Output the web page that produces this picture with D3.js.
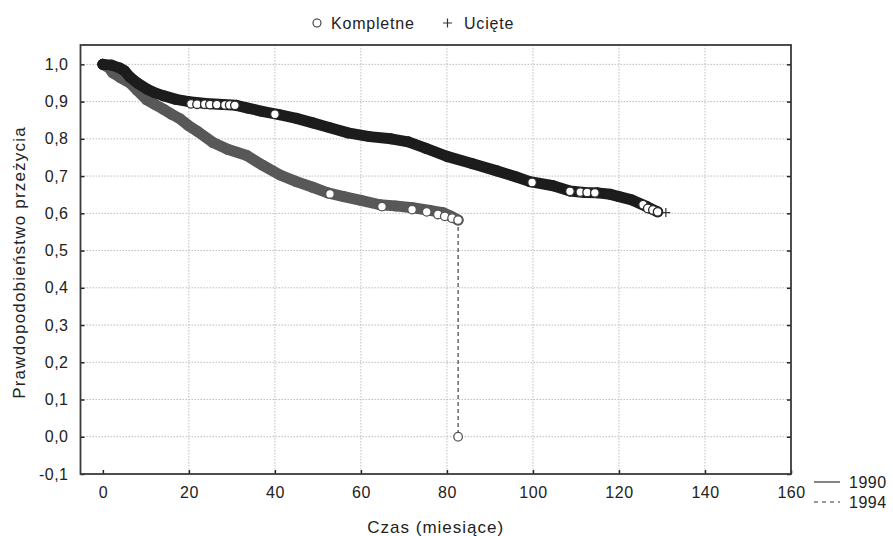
<!DOCTYPE html>
<html>
<head>
<meta charset="utf-8">
<script src="https://cdn.jsdelivr.net/npm/d3@7"></script>
<style>
  body { margin: 0; background: #fff; }
  text { font-family: "Liberation Sans", Arial, sans-serif; fill: #222; }
</style>
</head>
<body>
<div id="chart"></div>
<script>
// Kaplan-Meier survival curves: [months, probability]
const curve1990 = [
  [0, 1.0], [2, 0.998], [4, 0.99], [5, 0.983], [6.3, 0.966], [8, 0.95], [10.2, 0.934],
  [12, 0.924], [14, 0.916], [17, 0.906], [20, 0.9], [24, 0.895], [28, 0.892], [31, 0.89],
  [33.5, 0.883], [37, 0.874], [41, 0.865], [45, 0.855], [48.8, 0.843], [52.8, 0.83],
  [57, 0.816], [62, 0.806], [67, 0.8], [71, 0.792], [75, 0.775], [80, 0.753], [86, 0.733],
  [91.6, 0.714], [96, 0.698], [99.3, 0.685], [104.7, 0.674], [108.6, 0.66], [112, 0.656],
  [115, 0.655], [118, 0.651], [120, 0.645], [123, 0.636], [126.5, 0.618], [129, 0.604]
];
const curve1994 = [
  [0, 1.0], [1.5, 0.99], [2.3, 0.977], [4, 0.965], [6.3, 0.95], [8, 0.93], [10.2, 0.905],
  [12, 0.893], [14, 0.88], [16, 0.866], [17.9, 0.854], [20, 0.835], [22, 0.82], [25.6, 0.79],
  [29, 0.772], [33.5, 0.755], [37, 0.73], [41.2, 0.703], [45, 0.685], [48.8, 0.67],
  [52.3, 0.655], [56, 0.645], [60, 0.635], [64.4, 0.623], [68, 0.62], [72, 0.615],
  [76, 0.608], [79, 0.602], [81, 0.592], [82.6, 0.582]
];

// complete observations still visible as open circles
const open1990 = [
  [20.5, 0.894], [21.9, 0.893], [23.7, 0.893], [24.9, 0.892], [26.5, 0.892], [28.4, 0.891],
  [29.5, 0.891], [30.7, 0.89], [40, 0.866], [99.8, 0.683], [108.6, 0.659], [111, 0.657],
  [112.6, 0.656], [114.4, 0.655], [125.6, 0.623], [126.7, 0.613], [127.9, 0.609], [129, 0.604]
];
const open1994 = [
  [52.8, 0.652], [64.9, 0.618], [71.9, 0.61], [75.3, 0.604], [77.9, 0.597], [79.5, 0.592],
  [81.2, 0.587], [82.6, 0.582], [82.6, 0.0]
];
// censored observation
const censored1990 = [[130.9, 0.602]];

const xTicks = [0, 20, 40, 60, 80, 100, 120, 140, 160];
const yTicks = [-0.1, 0, 0.1, 0.2, 0.3, 0.4, 0.5, 0.6, 0.7, 0.8, 0.9, 1.0];
const years = ["1990", "1994"];

const width = 893, height = 536;
const plotL = 80.5, plotR = 791, plotT = 45, plotB = 474;

const svg = d3.select('#chart').append('svg')
  .attr('width', width)
  .attr('height', height);

const x = d3.scaleLinear().domain([-5.2, 160]).range([plotL, plotR]);
const y = d3.scaleLinear().domain([-0.1, 1.052]).range([plotB, plotT]);

const fmt = v => v.toFixed(1).replace('.', ',');

//Grid
svg.append('g').selectAll('line')
  .data(xTicks.filter(d => d > 0 && d < 160))
  .enter().append('line')
    .attr('x1', d => x(d)).attr('x2', d => x(d))
    .attr('y1', plotT).attr('y2', plotB)
    .attr('stroke', '#bdbdbd').attr('stroke-dasharray', '1.5,1.5');
svg.append('g').selectAll('line')
  .data(yTicks.filter(d => d > -0.1))
  .enter().append('line')
    .attr('x1', plotL).attr('x2', plotR)
    .attr('y1', d => y(d)).attr('y2', d => y(d))
    .attr('stroke', '#bdbdbd').attr('stroke-dasharray', '1.5,1.5');

//Axes with inward ticks
const xAxis = svg.append('g')
  .attr('transform', `translate(0,${plotB})`)
  .call(d3.axisBottom(x).tickValues(xTicks).tickSize(-4).tickPadding(13));
const yAxis = svg.append('g')
  .attr('transform', `translate(${plotL},0)`)
  .call(d3.axisLeft(y).tickValues(yTicks).tickFormat(fmt).tickSize(-4).tickPadding(12));
const yAxisR = svg.append('g')
  .attr('transform', `translate(${plotR},0)`)
  .call(d3.axisRight(y).tickValues(yTicks).tickFormat('').tickSize(-4));

[xAxis, yAxis, yAxisR].forEach(g => {
  g.select('.domain').remove();
  g.selectAll('.tick line').attr('stroke', '#222').attr('stroke-width', 1.5);
  g.selectAll('.tick text')
    .style('font-family', '"Liberation Sans", Arial, sans-serif')
    .style('font-size', '16px')
    .style('letter-spacing', '0.5px')
    .attr('fill', '#222');
});

//Frame
svg.append('rect')
  .attr('x', plotL).attr('y', plotT)
  .attr('width', plotR - plotL).attr('height', plotB - plotT)
  .attr('fill', 'none').attr('stroke', '#3a3a3a').attr('stroke-width', 1.8);

//Survival bands
const line = d3.line().x(d => x(d[0])).y(d => y(d[1]));

const series = [
  {curve: curve1994, open: open1994, color: '#585858', ring: '#555'},
  {curve: curve1990, open: open1990, color: '#1c1c1c', ring: '#2a2a2a'}
];

series.forEach(s => {
  svg.append('path')
    .datum(s.curve)
    .attr('d', line)
    .attr('fill', 'none')
    .attr('stroke', s.color)
    .attr('stroke-width', 11)
    .attr('stroke-linejoin', 'round')
    .attr('stroke-linecap', 'round');

  svg.append('g').selectAll('circle')
    .data(s.curve)
    .enter().append('circle')
      .attr('cx', d => x(d[0]))
      .attr('cy', d => y(d[1]))
      .attr('r', 5.5)
      .attr('fill', s.color);
});

//Drop to zero for 1994
const last94 = curve1994[curve1994.length - 1];
svg.append('line')
  .attr('x1', x(last94[0])).attr('x2', x(last94[0]))
  .attr('y1', y(last94[1])).attr('y2', y(0))
  .attr('stroke', '#444').attr('stroke-width', 1.2)
  .attr('stroke-dasharray', '4,3');

//Open circles
series.forEach(s => {
  svg.append('g').selectAll('circle')
    .data(s.open)
    .enter().append('circle')
      .attr('cx', d => x(d[0]))
      .attr('cy', d => y(d[1]))
      .attr('r', 4.3)
      .attr('fill', '#fff')
      .attr('stroke', s.ring)
      .attr('stroke-width', 1.3);
});

//Censored plus
svg.append('g').selectAll('path')
  .data(censored1990)
  .enter().append('path')
    .attr('d', d => `M${x(d[0]) - 4.5},${y(d[1])}h9M${x(d[0])},${y(d[1]) - 4.5}v9`)
    .attr('stroke', '#333').attr('stroke-width', 1.2);

//Axis titles
svg.append('text')
  .attr('x', (plotL + plotR) / 2).attr('y', 533)
  .attr('text-anchor', 'middle')
  .style('font-size', '17px')
  .style('letter-spacing', '1px')
  .text('Czas (miesiące)');
svg.append('text')
  .attr('transform', `translate(25,${(plotT + plotB) / 2 + 3}) rotate(-90)`)
  .attr('text-anchor', 'middle')
  .style('font-size', '17px')
  .style('letter-spacing', '1.2px')
  .text('Prawdopodobieństwo przeżycia');

//Marker key at top
svg.append('circle').attr('cx', 317).attr('cy', 23).attr('r', 4)
  .attr('fill', 'none').attr('stroke', '#333').attr('stroke-width', 1.1);
svg.append('text').attr('x', 331).attr('y', 29).style('font-size', '16px')
  .style('letter-spacing', '0.8px').text('Kompletne');
svg.append('path').attr('d', 'M443,23h9M447.5,18.5v9').attr('stroke', '#333').attr('stroke-width', 1.2);
svg.append('text').attr('x', 464).attr('y', 29).style('font-size', '16px')
  .style('letter-spacing', '0.8px').text('Ucięte');

//Line style key
const key = svg.append('g').selectAll('g')
  .data(years)
  .enter().append('g')
    .attr('transform', (d, i) => `translate(0,${482 + i * 20})`);
key.append('line')
  .attr('x1', 814).attr('x2', 840)
  .attr('stroke', '#333').attr('stroke-width', 1.2)
  .attr('stroke-dasharray', (d, i) => i ? '4,4' : null);
key.append('text')
  .attr('x', 849).attr('y', 6)
  .style('font-size', '16px')
  .style('letter-spacing', '0.5px')
  .text(d => d);
</script>
</body>
</html>
